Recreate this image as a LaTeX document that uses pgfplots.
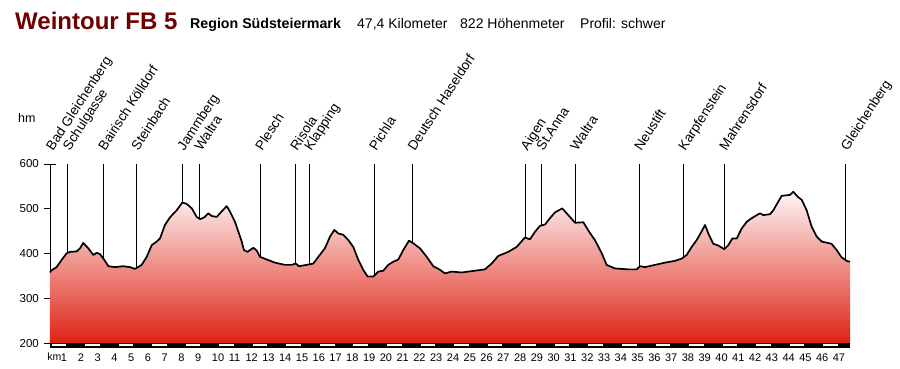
\documentclass[border=0pt]{standalone}
\usepackage{pgfplots}
\pgfplotsset{compat=1.18}
\usepackage{pgfplotstable}
\usepackage{fontspec}
\setmainfont{Liberation Sans}
\definecolor{titlered}{RGB}{110,0,0}
\definecolor{fillred}{RGB}{222,34,20}
\definecolor{filltop}{RGB}{254,246,246}

\pgfplotstableread{
km elev
0.00 358
0.06 362
0.39 370
0.69 386
0.99 401
1.20 404
1.58 405
1.78 412
1.97 424
2.27 412
2.57 397
2.77 402
2.96 399
3.22 386
3.46 372
3.85 370
4.34 372
4.74 370
5.04 366
5.43 375
5.73 393
6.03 419
6.32 427
6.52 434
6.81 464
7.11 481
7.51 497
7.84 514
8.10 511
8.40 501
8.69 482
8.89 477
9.14 481
9.38 490
9.58 484
9.88 482
10.17 494
10.47 506
10.66 494
10.96 471
11.16 449
11.36 427
11.49 408
11.70 404
11.85 408
12.05 413
12.25 407
12.44 393
12.84 387
13.33 380
13.92 375
14.32 375
14.56 378
14.75 372
15.21 375
15.60 378
15.90 393
16.29 412
16.59 438
16.85 453
17.08 445
17.38 442
17.68 430
17.97 415
18.27 386
18.56 364
18.82 349
19.16 349
19.45 360
19.75 362
20.04 375
20.34 382
20.64 387
20.93 408
21.27 429
21.53 423
21.92 412
22.32 393
22.71 372
23.11 364
23.40 356
23.60 358
23.80 360
24.39 358
25.18 362
25.77 365
26.17 378
26.56 395
27.15 404
27.65 415
28.14 436
28.44 432
28.74 449
29.03 462
29.33 465
29.62 479
29.92 492
30.35 501
30.71 486
31.11 469
31.60 470
31.94 449
32.29 430
32.69 401
32.98 375
33.48 367
34.26 365
34.76 365
34.96 372
35.26 370
35.85 375
36.44 380
37.03 384
37.43 389
37.72 397
38.02 415
38.31 430
38.57 447
38.81 464
39.04 442
39.30 422
39.60 418
39.95 410
40.19 419
40.43 434
40.69 434
40.98 456
41.28 471
41.57 479
41.97 488
42.07 490
42.26 486
42.66 488
42.86 497
43.15 516
43.35 529
43.84 531
44.04 538
44.30 527
44.54 520
44.83 497
45.13 460
45.43 438
45.72 427
46.31 422
46.61 408
46.90 392
47.20 384
47.40 382
}\profile

\begin{document}
\begin{tikzpicture}
\path[use as bounding box] (0pt,0pt) rectangle (900pt,368pt);
\node[anchor=base west, inner sep=0pt, text=titlered, font=\fontsize{24}{24}\selectfont\bfseries] at (15pt,339pt) {Weintour FB 5};
\node[anchor=base west, inner sep=0pt, font=\fontsize{14.2}{14.2}\selectfont\bfseries] at (190pt,339.5pt) {Region Südsteiermark};
\node[anchor=base west, inner sep=0pt, font=\fontsize{14}{14}\selectfont] at (357pt,339.5pt) {47,4 Kilometer};
\node[anchor=base west, inner sep=0pt, font=\fontsize{14}{14}\selectfont] at (460pt,339.5pt) {822 Höhenmeter};
\node[anchor=base west, inner sep=0pt, font=\fontsize{14}{14}\selectfont] at (580pt,339.5pt) {Profil: schwer};
\node[anchor=base west, inner sep=0pt, font=\fontsize{12.5}{12.5}\selectfont] at (18pt,246pt) {hm};
\node[anchor=base east, inner sep=0pt, font=\fontsize{10.5}{10.5}\selectfont] at (61.5pt,7.3pt) {km};
\begin{axis}[
  at={(50pt,20.2pt)}, anchor=south west,
  scale only axis, width=800pt, height=183.8pt,
  xmin=0, xmax=47.4, ymin=190, ymax=600,
  clip=false,
  axis lines*=left,
  x axis line style={draw=none},
  y axis line style={black, line width=0.8pt},
  xtick style={draw=none},
  ytick={200,300,400,500,600},
  ytick style={black, line width=0.8pt},
  tick align=outside, major tick length=5.5pt,
  /pgf/number format/assume math mode=true,
  yticklabel style={anchor=east, inner sep=0pt, xshift=-5.5pt, font=\fontsize{11.5}{11.5}\selectfont},
  xtick={0.994,1.988,2.983,3.977,4.971,5.965,6.959,7.954,8.948,9.942,10.936,11.930,12.924,13.919,14.913,15.907,16.901,17.895,18.890,19.884,20.878,21.872,22.866,23.861,24.855,25.849,26.843,27.837,28.832,29.826,30.820,31.814,32.808,33.802,34.797,35.791,36.785,37.779,38.773,39.768,40.762,41.756,42.750,43.744,44.739,45.733,46.727},
  xticklabels={1,2,3,4,5,6,7,8,9,10,11,12,13,14,15,16,17,18,19,20,21,22,23,24,25,26,27,28,29,30,31,32,33,34,35,36,37,38,39,40,41,42,43,44,45,46,47},
  xticklabel style={anchor=north west, inner sep=0pt, xshift=-6pt, yshift=0pt, font=\fontsize{11}{11}\selectfont},
  extra y ticks={600}, extra y tick labels={},
  extra y tick style={tick align=center, major tick length=11pt},
]
% place marker lines
\addplot[black, line width=0.8pt, unbounded coords=jump] coordinates {
(1.05,600) (1.05,300) (1.05,nan)
(3.16,600) (3.16,300) (3.16,nan)
(5.11,600) (5.11,300) (5.11,nan)
(7.84,600) (7.84,300) (7.84,nan)
(8.85,600) (8.85,300) (8.85,nan)
(12.46,600) (12.46,300) (12.46,nan)
(14.53,600) (14.53,300) (14.53,nan)
(15.36,600) (15.36,300) (15.36,nan)
(19.21,600) (19.21,300) (19.21,nan)
(21.49,600) (21.49,300) (21.49,nan)
(28.18,600) (28.18,300) (28.18,nan)
(29.11,600) (29.11,300) (29.11,nan)
(31.12,600) (31.12,300) (31.12,nan)
(34.91,600) (34.91,300) (34.91,nan)
(37.52,600) (37.52,300) (37.52,nan)
(39.95,600) (39.95,300) (39.95,nan)
(47.14,600) (47.14,300)
};
% profile fill
\addplot[draw=none, top color=filltop, bottom color=fillred] table[x=km,y=elev]{\profile} -- (axis cs:47.4,200) -- (axis cs:0,200) -- cycle;
% profile outline
\addplot[black, line width=1.7pt, line join=round] table[x=km,y=elev]{\profile};
% km band
\addplot[fill=black, draw=none] coordinates {(0,190) (47.4,190) (47.4,200) (0,200)} -- cycle;
\addplot[white, line width=2pt, unbounded coords=jump] coordinates {
(0.09,196.2) (0.95,196.2) (0.5,nan)
(2.08,196.2) (2.94,196.2) (2.5,nan)
(4.07,196.2) (4.93,196.2) (4.5,nan)
(6.06,196.2) (6.92,196.2) (6.5,nan)
(8.04,196.2) (8.90,196.2) (8.5,nan)
(10.03,196.2) (10.89,196.2) (10.5,nan)
(12.02,196.2) (12.88,196.2) (12.5,nan)
(14.01,196.2) (14.87,196.2) (14.5,nan)
(16.00,196.2) (16.86,196.2) (16.5,nan)
(17.98,196.2) (18.84,196.2) (18.5,nan)
(19.97,196.2) (20.83,196.2) (20.5,nan)
(21.96,196.2) (22.82,196.2) (22.5,nan)
(23.95,196.2) (24.81,196.2) (24.5,nan)
(25.94,196.2) (26.80,196.2) (26.5,nan)
(27.92,196.2) (28.78,196.2) (28.5,nan)
(29.91,196.2) (30.77,196.2) (30.5,nan)
(31.90,196.2) (32.76,196.2) (32.5,nan)
(33.89,196.2) (34.75,196.2) (34.5,nan)
(35.88,196.2) (36.74,196.2) (36.5,nan)
(37.86,196.2) (38.72,196.2) (38.5,nan)
(39.85,196.2) (40.71,196.2) (40.5,nan)
(41.84,196.2) (42.70,196.2) (42.5,nan)
(43.83,196.2) (44.69,196.2) (44.5,nan)
(45.82,196.2) (46.68,196.2)
};
% place names
\tikzset{plabel/.style={anchor=base west, inner sep=0pt, rotate=57, font=\fontsize{13.5}{13.5}\selectfont}}
\node[plabel] at (axis cs:0.18,628) {Bad Gleichenberg};
\node[plabel] at (axis cs:1.17,628) {Schulgasse};
\node[plabel] at (axis cs:3.28,628) {Bairisch Kölldorf};
\node[plabel] at (axis cs:5.23,628) {Steinbach};
\node[plabel] at (axis cs:7.96,628) {Jammberg};
\node[plabel] at (axis cs:8.97,628) {Waltra};
\node[plabel] at (axis cs:12.58,628) {Plesch};
\node[plabel] at (axis cs:14.65,628) {Risola};
\node[plabel] at (axis cs:15.48,628) {Klapping};
\node[plabel] at (axis cs:19.33,628) {Pichla};
\node[plabel] at (axis cs:21.61,628) {Deutsch Haseldorf};
\node[plabel] at (axis cs:28.30,628) {Aigen};
\node[plabel] at (axis cs:29.23,628) {St.Anna};
\node[plabel] at (axis cs:31.24,628) {Waltra};
\node[plabel] at (axis cs:35.03,628) {Neustift};
\node[plabel] at (axis cs:37.64,628) {Karpfenstein};
\node[plabel] at (axis cs:40.07,628) {Mahrensdorf};
\node[plabel] at (axis cs:47.26,628) {Gleichenberg};
\end{axis}
\end{tikzpicture}
\end{document}
